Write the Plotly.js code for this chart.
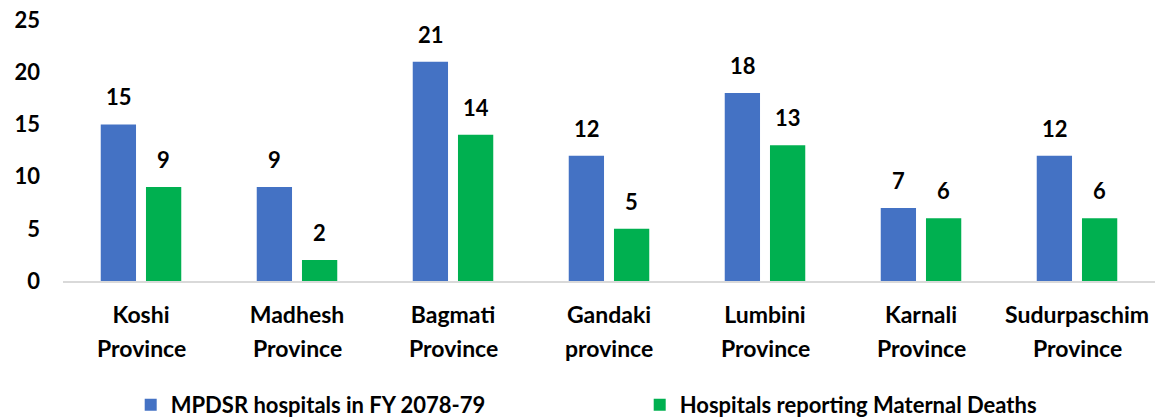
<!DOCTYPE html>
<html>
<head>
<meta charset="utf-8">
<script src="https://cdn.plot.ly/plotly-3.0.1.min.js"></script>
<style>
  html, body { margin: 0; padding: 0; background: #fff; }
  #chart { width: 1168px; height: 419px; }
</style>
</head>
<body>
<div id="chart"></div>
<script>
// provinces, split in two lines like the original axis labels
const provinceFirst = ['Koshi', 'Madhesh', 'Bagmati', 'Gandaki', 'Lumbini', 'Karnali', 'Sudurpaschim'];
const provinceSecond = ['Province', 'Province', 'Province', 'province', 'Province', 'Province', 'Province'];
const categories = provinceFirst.map((p, i) => p + ' ' + provinceSecond[i]);

const mpdsrHospitals = [15, 9, 21, 12, 18, 7, 12];
const reportingHospitals = [9, 2, 14, 5, 13, 6, 6];

const blue = '#4472C4';
const green = '#00B050';
const font = 'Lato, "Open Sans", sans-serif';

const traces = [
  {
    type: 'bar',
    name: 'MPDSR hospitals in FY 2078-79',
    x: categories,
    y: mpdsrHospitals,
    marker: { color: blue },
    hoverinfo: 'x+y'
  },
  {
    type: 'bar',
    name: 'Hospitals reporting Maternal Deaths',
    x: categories,
    y: reportingHospitals,
    marker: { color: green },
    hoverinfo: 'x+y'
  }
];

// value labels above bars
const labelFont = { family: font, size: 22, color: '#000', weight: 'bold' };
const annotations = [];
categories.forEach((c, i) => {
  annotations.push({
    x: c, y: mpdsrHospitals[i], xref: 'x', yref: 'y',
    text: String(mpdsrHospitals[i]), showarrow: false,
    yanchor: 'bottom', xshift: -22.5, yshift: 12,
    font: labelFont
  });
  annotations.push({
    x: c, y: reportingHospitals[i], xref: 'x', yref: 'y',
    text: String(reportingHospitals[i]), showarrow: false,
    yanchor: 'bottom', xshift: 22.5, yshift: 12,
    font: labelFont
  });
  // second line of the category label
  annotations.push({
    x: c, y: 0, xref: 'x', yref: 'paper',
    text: provinceSecond[i], showarrow: false,
    yanchor: 'top', yshift: -51,
    font: { family: font, size: 23, color: '#000', weight: 'bold' }
  });
});

const layout = {
  width: 1168,
  height: 419,
  margin: { l: 63, r: 13, t: 20, b: 138, autoexpand: false },
  paper_bgcolor: '#fff',
  plot_bgcolor: '#fff',
  barmode: 'group',
  bargap: 0.42,
  bargroupgap: 0.22,
  font: { family: font, color: '#000' },
  xaxis: {
    type: 'category',
    tickvals: categories,
    ticktext: provinceFirst,
    showline: true,
    linecolor: '#D9D9D9',
    linewidth: 2,
    ticks: '',
    showgrid: false,
    tickfont: { family: font, size: 23, color: '#000', weight: 'bold' },
    ticklabelstandoff: 12
  },
  yaxis: {
    range: [0, 25],
    dtick: 5,
    showgrid: false,
    zeroline: false,
    showline: false,
    ticks: '',
    ticklabelstandoff: 22,
    tickfont: { family: font, size: 22, color: '#000', weight: 'bold' }
  },
  showlegend: true,
  legend: {
    orientation: 'h',
    x: 0.062,
    xanchor: 'left',
    y: -0.475,
    yanchor: 'middle',
    entrywidth: 464,
    font: { family: font, size: 22, color: '#000', weight: 'bold' }
  },
  annotations: annotations
};

Plotly.newPlot('chart', traces, layout, { displayModeBar: false, staticPlot: true });
</script>
</body>
</html>
